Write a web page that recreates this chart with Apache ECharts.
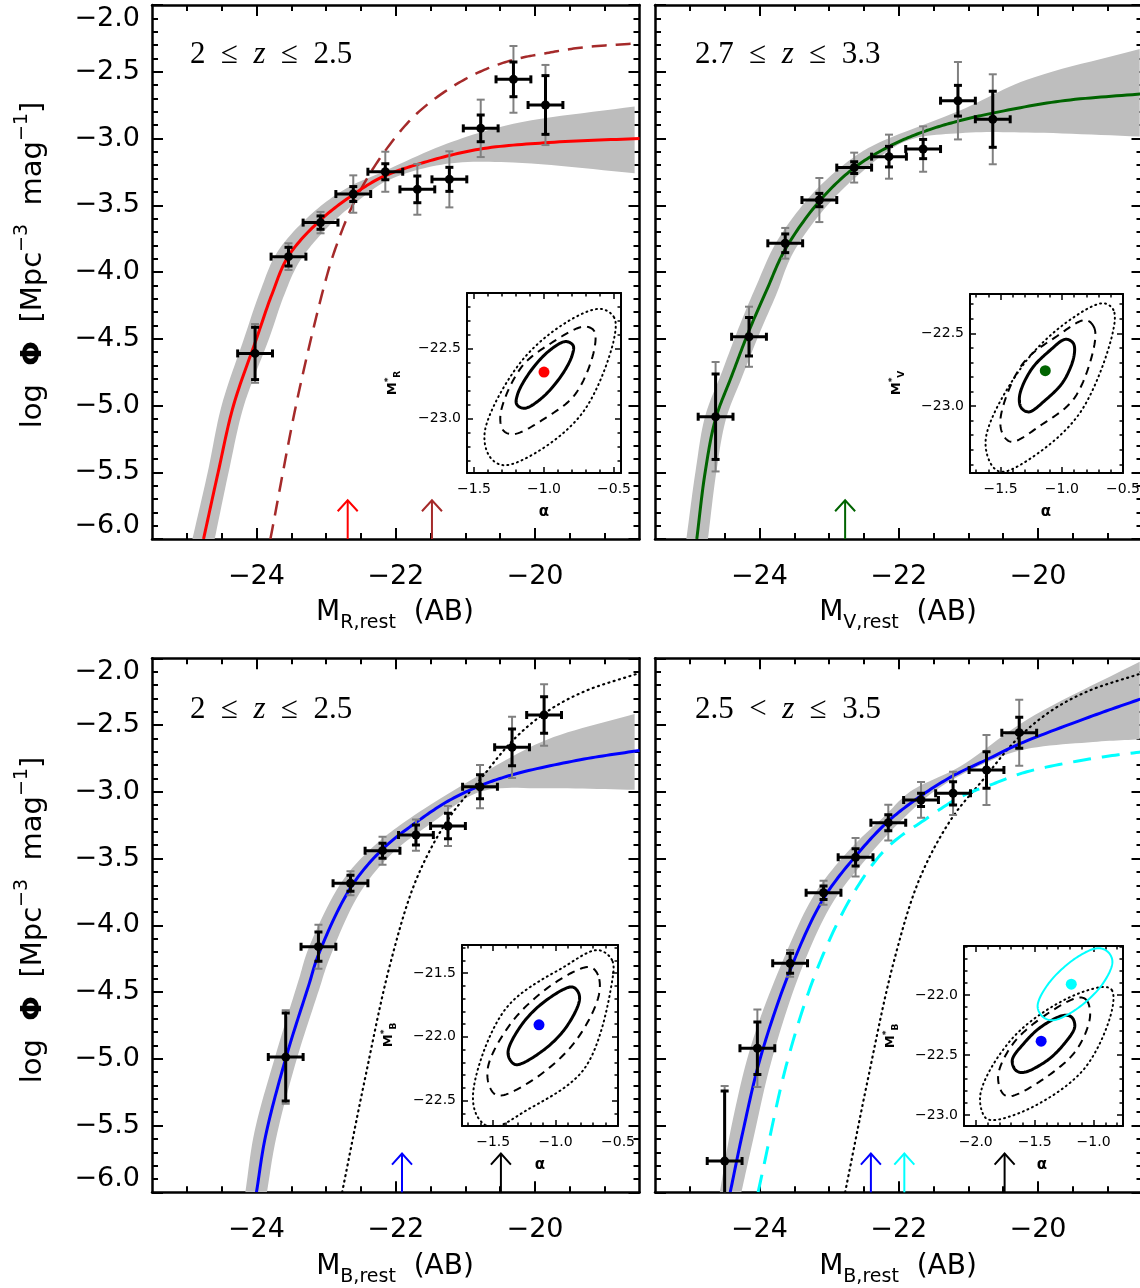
<!DOCTYPE html>
<html>
<head>
<meta charset="utf-8">
<title>Luminosity functions</title>
<script src="https://cdn.jsdelivr.net/npm/echarts@6.0.0/dist/echarts.min.js"></script>
<style>
  html, body { margin: 0; padding: 0; background: #fff; }
  #chart { width: 1140px; height: 1288px; }
</style>
</head>
<body>
<div id="chart"></div>
<script>
// ---- data ----
// half width of the magnitude bins
const binHalf = 0.25;

// top left: M_R, 2 <= z <= 2.5
const rMag = [-24.02, -23.54, -23.08, -22.61, -22.15, -21.69, -21.23, -20.78, -20.31, -19.85];
const rPhi = [-4.61, -3.885, -3.63, -3.416, -3.249, -3.381, -3.306, -2.924, -2.557, -2.749];
const rErr = [0.196, 0.07, 0.05, 0.056, 0.06, 0.10, 0.09, 0.10, 0.13, 0.22];
const rErrTot = [0.22, 0.10, 0.08, 0.14, 0.15, 0.19, 0.21, 0.215, 0.25, 0.30];
const rFit = [[-24.76, -6.0], [-24.55, -5.5], [-24.33, -5.0], [-24.0, -4.5], [-23.78, -4.17], [-23.54, -3.88],
  [-23.08, -3.61], [-22.61, -3.42], [-22.2, -3.29], [-21.6, -3.18], [-20.8, -3.08], [-19.8, -3.03], [-18.5, -3.0]];
const rLocal = [[-23.8, -6.0], [-23.4, -4.92], [-23.0, -4.05], [-22.85, -3.8], [-22.6, -3.48], [-22.23, -3.15],
  [-21.75, -2.84], [-21.27, -2.64], [-20.79, -2.5], [-20.31, -2.41], [-19.83, -2.36], [-19.35, -2.32], [-18.5, -2.285]];
const rBandHi = [[-24.92, -6.0], [-24.7, -5.5], [-24.5, -5.0], [-24.18, -4.5], [-23.95, -4.15], [-23.7, -3.85],
  [-23.2, -3.56], [-22.7, -3.37], [-22.23, -3.26], [-21.27, -3.04], [-20.31, -2.89], [-18.57, -2.76]];
const rBandLo = [[-24.6, -6.0], [-24.4, -5.5], [-24.18, -5.0], [-23.82, -4.5], [-23.6, -4.17], [-23.38, -3.92],
  [-22.95, -3.65], [-22.5, -3.45], [-22.1, -3.31], [-21.27, -3.19], [-20.31, -3.18], [-18.57, -3.26]];
const rArrows = [-22.69, -21.48];
const rArrowColors = ['#ff0000', '#a52a2a'];

// top right: M_V, 2.7 <= z <= 3.3
const vMag = [-24.63, -24.15, -23.63, -23.14, -22.64, -22.14, -21.65, -21.15, -20.65];
const vPhi = [-5.084, -4.485, -3.785, -3.461, -3.218, -3.136, -3.079, -2.717, -2.856];
const vErr = [0.32, 0.144, 0.07, 0.05, 0.044, 0.077, 0.072, 0.115, 0.21];
const vErrTot = [0.41, 0.225, 0.115, 0.165, 0.112, 0.165, 0.17, 0.29, 0.337];
const vFit = [[-24.9, -6.0], [-24.78, -5.5], [-24.63, -5.1], [-24.4, -4.78], [-24.15, -4.44], [-23.9, -4.14],
  [-23.63, -3.83], [-23.14, -3.47], [-22.64, -3.22], [-22.14, -3.06], [-21.65, -2.95], [-21.15, -2.87],
  [-20.65, -2.81], [-19.68, -2.72], [-18.5, -2.665]];
const vBandHi = [[-25.05, -6.0], [-24.92, -5.5], [-24.78, -5.08], [-24.54, -4.75], [-24.3, -4.42], [-24.06, -4.12],
  [-23.75, -3.77], [-23.25, -3.42], [-22.75, -3.18], [-22.36, -3.05], [-21.12, -2.79], [-20.16, -2.56], [-18.54, -2.33]];
const vBandLo = [[-24.74, -6.0], [-24.62, -5.5], [-24.48, -5.1], [-24.26, -4.8], [-24.0, -4.46], [-23.76, -4.17],
  [-23.52, -3.86], [-23.04, -3.51], [-22.55, -3.26], [-21.9, -3.02], [-21.12, -2.96], [-20.16, -2.955], [-18.54, -2.985]];
const vArrows = [-22.77];
const vArrowColors = ['#006400'];

// bottom left: M_B, 2 <= z <= 2.5
const b1Mag = [-23.58, -23.11, -22.65, -22.19, -21.71, -21.25, -20.79, -20.33, -19.87];
const b1Phi = [-4.987, -4.16, -3.685, -3.441, -3.324, -3.256, -2.962, -2.667, -2.425];
const b1Err = [0.33, 0.11, 0.06, 0.056, 0.075, 0.095, 0.09, 0.137, 0.137];
const b1ErrTot = [0.35, 0.165, 0.09, 0.105, 0.117, 0.15, 0.162, 0.23, 0.23];
const b1Fit = [[-24.0, -6.0], [-23.87, -5.58], [-23.57, -4.98], [-23.25, -4.45], [-23.11, -4.22], [-22.65, -3.72],
  [-22.19, -3.43], [-21.71, -3.23], [-21.25, -3.07], [-20.79, -2.955], [-20.31, -2.87], [-19.35, -2.76], [-18.5, -2.69]];
const b1BandHi = [[-24.16, -6.0], [-24.03, -5.55], [-23.73, -4.98], [-23.4, -4.42], [-23.25, -4.17], [-22.77, -3.67],
  [-22.3, -3.4], [-21.8, -3.2], [-20.79, -2.873], [-19.83, -2.61], [-18.57, -2.417]];
const b1BandLo = [[-23.85, -6.0], [-23.72, -5.6], [-23.42, -5.0], [-23.1, -4.48], [-22.96, -4.26], [-22.52, -3.76],
  [-22.05, -3.46], [-21.5, -3.24], [-20.79, -3.0], [-19.83, -2.974], [-18.57, -2.985]];
const b1Arrows = [-21.91, -20.49];
const b1ArrowColors = ['#0000ff', '#000000'];

// bottom right: M_B, 2.5 < z <= 3.5
const b2Mag = [-24.50, -24.03, -23.56, -23.08, -22.62, -22.15, -21.68, -21.22, -20.74, -20.27];
const b2Phi = [-5.766, -4.921, -4.285, -3.756, -3.491, -3.231, -3.061, -3.011, -2.837, -2.557];
const b2Err = [0.524, 0.196, 0.075, 0.05, 0.065, 0.06, 0.05, 0.087, 0.137, 0.116];
const b2ErrTot = [0.562, 0.29, 0.10, 0.09, 0.144, 0.134, 0.134, 0.162, 0.262, 0.247];
const b2Fit = [[-24.42, -6.0], [-24.24, -5.55], [-23.98, -4.98], [-23.54, -4.31], [-23.08, -3.8], [-22.6, -3.47],
  [-22.15, -3.22], [-21.68, -3.03], [-21.22, -2.88], [-20.74, -2.76], [-20.26, -2.64], [-19.21, -2.43], [-18.5, -2.30]];
const b2Alt = [[-24.02, -6.0], [-23.59, -5.0], [-23.15, -4.3], [-22.65, -3.76], [-22.17, -3.42], [-21.6, -3.2],
  [-21.12, -3.04], [-20.64, -2.94], [-20.16, -2.85], [-19.21, -2.75], [-18.5, -2.70]];
const b2BandHi = [[-24.57, -6.0], [-24.4, -5.5], [-24.12, -4.9], [-23.66, -4.26], [-23.2, -3.76], [-22.7, -3.43],
  [-22.2, -3.18], [-21.84, -3.0], [-21.12, -2.81], [-20.16, -2.46], [-18.54, -2.025]];
const b2BandLo = [[-24.26, -6.0], [-24.08, -5.58], [-23.84, -5.04], [-23.42, -4.36], [-22.96, -3.84], [-22.48, -3.51],
  [-22.05, -3.26], [-21.5, -3.0], [-20.9, -2.82], [-20.26, -2.69], [-19.21, -2.627], [-18.54, -2.607]];
const b2Arrows = [-22.40, -21.92, -20.48];
const b2ArrowColors = ['#0000ff', '#00ffff', '#000000'];

// reference LF drawn dotted in both B panels
const bRef = [[-22.77, -6.0], [-22.45, -5.17], [-22.08, -4.29], [-21.7, -3.65], [-21.24, -3.2], [-20.79, -2.91],
  [-20.31, -2.61], [-19.83, -2.40], [-19.3, -2.25], [-18.5, -2.11]];
const arrowBase = -6.0;
const arrowTip = -5.71;

// insets: alpha vs M*, 1/2/3 sigma contours (points going round each contour)
const rDot = [-1.0, -22.667];
const rEll1 = [[-0.792, -22.476], [-0.847, -22.448], [-0.97, -22.52], [-1.11, -22.68], [-1.19, -22.83],
  [-1.195, -22.898], [-1.14, -22.926], [-1.017, -22.854], [-0.877, -22.694], [-0.8, -22.55]];
const rEll2 = [[-0.644, -22.369], [-0.716, -22.341], [-0.95, -22.46], [-1.16, -22.63], [-1.31, -22.965],
  [-1.291, -23.084], [-1.219, -23.112], [-0.985, -22.993], [-0.775, -22.823], [-0.64, -22.5]];
const rEll3 = [[-0.5, -22.274], [-0.596, -22.214], [-0.84, -22.31], [-1.17, -22.6], [-1.423, -23.095],
  [-1.387, -23.274], [-1.291, -23.334], [-1.047, -23.238], [-0.717, -22.948], [-0.5, -22.43]];

const vDot = [-1.135, -22.757];
const vEll1 = [[-0.906, -22.569], [-0.968, -22.541], [-1.10, -22.62], [-1.25, -22.75], [-1.345, -22.93],
  [-1.331, -23.012], [-1.269, -23.04], [-1.137, -22.961], [-0.987, -22.831], [-0.9, -22.655]];
const vEll2 = [[-0.739, -22.455], [-0.806, -22.409], [-1.04, -22.52], [-1.32, -22.71], [-1.50, -23.08],
  [-1.478, -23.2], [-1.411, -23.246], [-1.177, -23.135], [-0.897, -22.945], [-0.73, -22.56]];
const vEll3 = [[-0.578, -22.34], [-0.659, -22.294], [-0.92, -22.40], [-1.30, -22.70], [-1.62, -23.217],
  [-1.573, -23.406], [-1.492, -23.452], [-1.231, -23.346], [-0.851, -23.046], [-0.585, -22.5]];

const b1Dot = [-1.133, -21.906];
const b1Ell1 = [[-0.82, -21.648], [-0.869, -21.609], [-1.07, -21.71], [-1.26, -21.89], [-1.38, -22.11],
  [-1.365, -22.18], [-1.316, -22.219], [-1.115, -22.118], [-0.925, -21.938], [-0.81, -21.72]];
const b1Ell2 = [[-0.66, -21.516], [-0.724, -21.453], [-0.98, -21.56], [-1.33, -21.86], [-1.54, -22.23],
  [-1.526, -22.398], [-1.462, -22.461], [-1.206, -22.354], [-0.856, -22.054], [-0.655, -21.68]];
const b1Ell3 = [[-0.548, -21.398], [-0.66, -21.32], [-0.93, -21.45], [-1.40, -21.78], [-1.66, -22.43],
  [-1.622, -22.633], [-1.51, -22.711], [-1.24, -22.581], [-0.77, -22.251], [-0.55, -21.58]];

const b2Dot = [-1.445, -22.383];
const b2DotAlt = [-1.189, -21.908];
const b2Ell1 = [[-1.183, -22.186], [-1.245, -22.167], [-1.44, -22.26], [-1.59, -22.40], [-1.69, -22.54],
  [-1.661, -22.625], [-1.599, -22.644], [-1.404, -22.551], [-1.254, -22.411], [-1.16, -22.265]];
const b2Ell2 = [[-1.059, -22.042], [-1.121, -22.019], [-1.40, -22.16], [-1.68, -22.40], [-1.81, -22.67],
  [-1.77, -22.819], [-1.708, -22.842], [-1.429, -22.701], [-1.149, -22.461], [-1.03, -22.18]];
const b2Ell3 = [[-0.844, -21.958], [-0.906, -21.931], [-1.25, -22.04], [-1.69, -22.36], [-1.96, -22.82],
  [-1.924, -23.014], [-1.862, -23.041], [-1.518, -22.932], [-1.078, -22.612], [-0.845, -22.13]];
const b2EllAlt = [[-0.875, -21.642], [-0.961, -21.608], [-1.15, -21.69], [-1.38, -21.90], [-1.475, -22.09],
  [-1.436, -22.175], [-1.35, -22.209], [-1.161, -22.127], [-0.931, -21.917], [-0.84, -21.725]];

// axes: ranges and ticks
const magRange = [-25.5, -18.5];
const phiRange = [-6.0, -2.0];
const magMajor = [-24, -22, -20];
const magMinor = [-25, -24.5, -23.5, -23, -22.5, -21.5, -21, -20.5, -19.5, -19];
const phiMajor = [-6.0, -5.5, -5.0, -4.5, -4.0, -3.5, -3.0, -2.5, -2.0];

const FONT = 'DejaVu Sans';
const SERIF = 'Liberation Serif';

function steps(a, b, d) {
  const out = [];
  const n = Math.round((b - a) / d);
  for (let i = 0; i <= n; i++) out.push(+(a + i * d).toFixed(3));
  return out;
}
const phiMinor = steps(-6.0, -2.0, 0.1);

const minusInt = v => (v < 0 ? '\u2212' : '') + Math.abs(v);
const minus1 = v => (v < 0 ? '\u2212' : '') + Math.abs(v).toFixed(1);

const mainStyle = { line: 2.5, tick: 2, major: 11, minor: 6, font: 27, xMargin: 24, yMargin: 12, fmtX: minusInt, fmtY: minus1, edge: true, yLabel: true };
const sideStyle = Object.assign({}, mainStyle, { yLabel: false });
const insetStyle = { line: 2, tick: 1.5, major: 6, minor: 3.5, font: 14, xMargin: 9, yMargin: 6, fmtX: minus1, fmtY: minus1, edge: false, yLabel: true };

const grids = [], xAxes = [], yAxes = [], series = [], graphics = [];

function makeFrame(box, xr, yr, xt, yt, st) {
  const gi = grids.length;
  grids.push({
    left: box.left, top: box.top, width: box.width, height: box.height,
    containLabel: false, outerBoundsMode: 'none', show: false
  });
  const xi = xAxes.length, yi = yAxes.length;
  ['bottom', 'top'].forEach(pos => ['major', 'minor'].forEach(lvl => {
    const lab = pos === 'bottom' && lvl === 'major';
    xAxes.push({
      type: 'value', gridIndex: gi, position: pos, min: xr[0], max: xr[1],
      axisLine: { show: lvl === 'major', onZero: false, lineStyle: { color: '#000', width: st.line } },
      axisTick: { show: true, inside: true, customValues: xt[lvl], length: st[lvl], lineStyle: { color: '#000', width: st.tick } },
      axisLabel: lab ? {
        show: true, customValues: xt.major, formatter: st.fmtX, margin: st.xMargin,
        color: '#000', fontFamily: FONT, fontSize: st.font
      } : { show: false },
      splitLine: { show: false }
    });
  }));
  ['left', 'right'].forEach(pos => ['major', 'minor'].forEach(lvl => {
    const lab = st.yLabel && pos === 'left' && lvl === 'major';
    const label = lab ? {
      show: true, customValues: yt.major, formatter: st.fmtY, margin: st.yMargin,
      color: '#000', fontFamily: FONT, fontSize: st.font
    } : { show: false };
    if (lab && st.edge) {
      label.verticalAlignMinLabel = 'bottom';
      label.verticalAlignMaxLabel = 'top';
    }
    yAxes.push({
      type: 'value', gridIndex: gi, position: pos, min: yr[0], max: yr[1],
      axisLine: { show: lvl === 'major', onZero: false, lineStyle: { color: '#000', width: st.line } },
      axisTick: { show: true, inside: true, customValues: yt[lvl], length: st[lvl], lineStyle: { color: '#000', width: st.tick } },
      axisLabel: label,
      splitLine: { show: false }
    });
  }));
  return { xi, yi };
}

// centripetal catmull-rom through pixel points, used only for drawing
function spline(pts, closed, n) {
  const m = pts.length;
  let P;
  if (closed) {
    P = [pts[m - 1]].concat(pts, [pts[0], pts[1]]);
  } else {
    const a = [2 * pts[0][0] - pts[1][0], 2 * pts[0][1] - pts[1][1]];
    const b = [2 * pts[m - 1][0] - pts[m - 2][0], 2 * pts[m - 1][1] - pts[m - 2][1]];
    P = [a].concat(pts, [b]);
  }
  const knot = (p, q) => Math.max(1e-6, Math.sqrt(Math.hypot(q[0] - p[0], q[1] - p[1])));
  const out = [];
  for (let i = 0; i + 3 < P.length; i++) {
    const p0 = P[i], p1 = P[i + 1], p2 = P[i + 2], p3 = P[i + 3];
    const t0 = 0, t1 = knot(p0, p1), t2 = t1 + knot(p1, p2), t3 = t2 + knot(p2, p3);
    for (let s = 0; s < n; s++) {
      const t = t1 + (t2 - t1) * s / n;
      const lerp = (a, b, ta, tb) => [0, 1].map(k => ((tb - t) * a[k] + (t - ta) * b[k]) / (tb - ta));
      const A1 = lerp(p0, p1, t0, t1), A2 = lerp(p1, p2, t1, t2), A3 = lerp(p2, p3, t2, t3);
      const B1 = lerp(A1, A2, t0, t2), B2 = lerp(A2, A3, t1, t3);
      out.push(lerp(B1, B2, t1, t2));
    }
  }
  out.push(P[P.length - 2]);
  return out;
}

function addBand(ax, hi, lo) {
  series.push({
    type: 'custom', xAxisIndex: ax.xi, yAxisIndex: ax.yi, z: 1, clip: true, silent: true,
    data: hi,
    renderItem: (params, api) => {
      if (params.dataIndex !== 0) return null;
      const top = spline(hi.map(p => api.coord(p)), false, 12);
      const bot = spline(lo.map(p => api.coord(p)), false, 12).reverse();
      return { type: 'polygon', shape: { points: top.concat(bot) }, style: { fill: '#bebebe' } };
    }
  });
}

function addCurve(ax, pts, color, dash, width) {
  series.push({
    type: 'custom', xAxisIndex: ax.xi, yAxisIndex: ax.yi, z: 3, clip: true, silent: true,
    data: pts,
    renderItem: (params, api) => {
      if (params.dataIndex !== 0) return null;
      return {
        type: 'polyline', shape: { points: spline(pts.map(p => api.coord(p)), false, 16) },
        style: { stroke: color, lineWidth: width, lineDash: dash, lineCap: dash && dash[0] < 3 ? 'round' : 'butt', fill: 'none' }
      };
    }
  });
}

function addPoints(ax, mag, phi, err, errTot) {
  series.push({
    type: 'custom', xAxisIndex: ax.xi, yAxisIndex: ax.yi, z: 5, clip: true, silent: true,
    data: mag.map((m, i) => [m, phi[i], err[i], errTot[i], binHalf]),
    renderItem: (params, api) => {
      const x = api.value(0), y = api.value(1), e = api.value(2), et = api.value(3), xe = api.value(4);
      const c = api.coord([x, y]);
      const gt = api.coord([x, y + et]), gb = api.coord([x, y - et]);
      const bt = api.coord([x, y + e]), bb = api.coord([x, y - e]);
      const xl = api.coord([x - xe, y]), xr = api.coord([x + xe, y]);
      const cap = 4;
      const gray = { stroke: '#808080', lineWidth: 2 };
      const blk = { stroke: '#000', lineWidth: 3 };
      const seg = (x1, y1, x2, y2, s) => ({ type: 'line', shape: { x1, y1, x2, y2 }, style: s });
      return {
        type: 'group', children: [
          seg(gt[0], gt[1], gb[0], gb[1], gray),
          seg(gt[0] - cap, gt[1], gt[0] + cap, gt[1], gray),
          seg(gb[0] - cap, gb[1], gb[0] + cap, gb[1], gray),
          seg(bt[0], bt[1], bb[0], bb[1], blk),
          seg(bt[0] - cap, bt[1], bt[0] + cap, bt[1], blk),
          seg(bb[0] - cap, bb[1], bb[0] + cap, bb[1], blk),
          seg(xl[0], xl[1], xr[0], xr[1], blk),
          seg(xl[0], xl[1] - cap, xl[0], xl[1] + cap, blk),
          seg(xr[0], xr[1] - cap, xr[0], xr[1] + cap, blk),
          { type: 'circle', shape: { cx: c[0], cy: c[1], r: 4.5 }, style: { fill: '#000' } }
        ]
      };
    }
  });
}

function addArrows(ax, mags, colors) {
  series.push({
    type: 'custom', xAxisIndex: ax.xi, yAxisIndex: ax.yi, z: 3, clip: false, silent: true,
    data: mags.map(m => [m, arrowBase, arrowTip]),
    renderItem: (params, api) => {
      const b = api.coord([api.value(0), api.value(1)]);
      const t = api.coord([api.value(0), api.value(2)]);
      const col = colors[params.dataIndex];
      return {
        type: 'group', children: [
          { type: 'line', shape: { x1: b[0], y1: b[1], x2: t[0], y2: t[1] }, style: { stroke: col, lineWidth: 2 } },
          { type: 'polyline', shape: { points: [[t[0] - 10, t[1] + 11], [t[0], t[1]], [t[0] + 10, t[1] + 11]] },
            style: { stroke: col, lineWidth: 2, fill: 'none' } }
        ]
      };
    }
  });
}

function addEllipse(ax, pts, color, dash, width) {
  series.push({
    type: 'custom', xAxisIndex: ax.xi, yAxisIndex: ax.yi, z: 5, clip: true, silent: true,
    data: pts,
    renderItem: (params, api) => {
      if (params.dataIndex !== 0) return null;
      return {
        type: 'polyline', shape: { points: spline(pts.map(p => api.coord(p)), true, 16) },
        style: { stroke: color, lineWidth: width, lineDash: dash, lineCap: dash && dash[0] < 3 ? 'round' : 'butt', fill: 'none' }
      };
    }
  });
}

function addDot(ax, p, color) {
  series.push({
    type: 'scatter', xAxisIndex: ax.xi, yAxisIndex: ax.yi, z: 6, silent: true,
    data: [p], symbol: 'circle', symbolSize: 11, itemStyle: { color: color, opacity: 1 }
  });
}

function addText(x, y, text, rich, rot, align) {
  graphics.push({
    type: 'text', x: x, y: y, rotation: rot || 0, z: 100, silent: true,
    style: { text: text, rich: rich, align: align || 'center', verticalAlign: 'middle', fill: '#000' }
  });
}

// ---- panels ----
const mainW = 487.5, mainH = 534;
const mainTicksX = { major: magMajor, minor: magMinor };
const mainTicksY = { major: phiMajor, minor: phiMinor };

const pTL = makeFrame({ left: 152, top: 5, width: mainW, height: mainH }, magRange, phiRange, mainTicksX, mainTicksY, mainStyle);
const pTR = makeFrame({ left: 655, top: 5, width: mainW, height: mainH }, magRange, phiRange, mainTicksX, mainTicksY, sideStyle);
const pBL = makeFrame({ left: 152, top: 658.3, width: mainW, height: mainH }, magRange, phiRange, mainTicksX, mainTicksY, mainStyle);
const pBR = makeFrame({ left: 655, top: 658.3, width: mainW, height: mainH }, magRange, phiRange, mainTicksX, mainTicksY, sideStyle);

const iTL = makeFrame({ left: 467, top: 293, width: 154, height: 180 }, [-1.55, -0.45], [-23.39, -22.1],
  { major: [-1.5, -1.0, -0.5], minor: steps(-1.5, -0.5, 0.1) }, { major: [-23.0, -22.5], minor: steps(-23.3, -22.2, 0.1) }, insetStyle);
const iTR = makeFrame({ left: 970, top: 294, width: 153, height: 179 }, [-1.75, -0.5], [-23.46, -22.23],
  { major: [-1.5, -1.0, -0.5], minor: steps(-1.7, -0.5, 0.1) }, { major: [-23.0, -22.5], minor: steps(-23.4, -22.3, 0.1) }, insetStyle);
const iBL = makeFrame({ left: 462, top: 945, width: 156, height: 181 }, [-1.75, -0.5], [-22.7, -21.28],
  { major: [-1.5, -1.0, -0.5], minor: steps(-1.7, -0.5, 0.1) }, { major: [-22.5, -22.0, -21.5], minor: steps(-22.6, -21.3, 0.1) }, insetStyle);
const iBR = makeFrame({ left: 964, top: 946, width: 159, height: 180 }, [-2.1, -0.75], [-23.09, -21.59],
  { major: [-2.0, -1.5, -1.0], minor: steps(-2.0, -0.8, 0.1) }, { major: [-23.0, -22.5, -22.0], minor: steps(-23.0, -21.6, 0.1) }, insetStyle);

const dashed = [15, 9];
const dotted = [1, 4.5];
const ellDash = [8, 6];
const ellDot = [1, 4];

// top left
addBand(pTL, rBandHi, rBandLo);
addCurve(pTL, rLocal, '#a52a2a', dashed, 2.5);
addCurve(pTL, rFit, '#ff0000', null, 3);
addArrows(pTL, rArrows, rArrowColors);
addPoints(pTL, rMag, rPhi, rErr, rErrTot);
addEllipse(iTL, rEll3, '#000', ellDot, 2);
addEllipse(iTL, rEll2, '#000', ellDash, 2);
addEllipse(iTL, rEll1, '#000', null, 3);
addDot(iTL, rDot, '#ff0000');

// top right
addBand(pTR, vBandHi, vBandLo);
addCurve(pTR, vFit, '#006400', null, 3);
addArrows(pTR, vArrows, vArrowColors);
addPoints(pTR, vMag, vPhi, vErr, vErrTot);
addEllipse(iTR, vEll3, '#000', ellDot, 2);
addEllipse(iTR, vEll2, '#000', ellDash, 2);
addEllipse(iTR, vEll1, '#000', null, 3);
addDot(iTR, vDot, '#006400');

// bottom left
addBand(pBL, b1BandHi, b1BandLo);
addCurve(pBL, bRef, '#000', dotted, 2.2);
addCurve(pBL, b1Fit, '#0000ff', null, 3);
addArrows(pBL, b1Arrows, b1ArrowColors);
addPoints(pBL, b1Mag, b1Phi, b1Err, b1ErrTot);
addEllipse(iBL, b1Ell3, '#000', ellDot, 2);
addEllipse(iBL, b1Ell2, '#000', ellDash, 2);
addEllipse(iBL, b1Ell1, '#000', null, 3);
addDot(iBL, b1Dot, '#0000ff');

// bottom right
addBand(pBR, b2BandHi, b2BandLo);
addCurve(pBR, bRef, '#000', dotted, 2.2);
addCurve(pBR, b2Alt, '#00ffff', [18, 11], 3);
addCurve(pBR, b2Fit, '#0000ff', null, 3);
addArrows(pBR, b2Arrows, b2ArrowColors);
addPoints(pBR, b2Mag, b2Phi, b2Err, b2ErrTot);
addEllipse(iBR, b2Ell3, '#000', ellDot, 2);
addEllipse(iBR, b2Ell2, '#000', ellDash, 2);
addEllipse(iBR, b2Ell1, '#000', null, 3);
addEllipse(iBR, b2EllAlt, '#00ffff', null, 2);
addDot(iBR, b2Dot, '#0000ff');
addDot(iBR, b2DotAlt, '#00ffff');

// ---- text ----
const yTitleRich = {
  a: { fontFamily: FONT, fontSize: 29, lineHeight: 40, fill: '#000' },
  b: { fontFamily: FONT, fontSize: 29, lineHeight: 40, fontWeight: 'bold', fill: '#000' },
  s: { fontFamily: FONT, fontSize: 19, lineHeight: 40, verticalAlign: 'top', fill: '#000' }
};
const yTitle = '{a|log  }{b|\u03a6}{a|  [Mpc}{s|\u22123}{a|  mag}{s|\u22121}{a|]}';
addText(33, 265, yTitle, yTitleRich, Math.PI / 2);
addText(33, 920, yTitle, yTitleRich, Math.PI / 2);

const xTitleRich = {
  m: { fontFamily: FONT, fontSize: 28, lineHeight: 40, fill: '#000' },
  s: { fontFamily: FONT, fontSize: 19, lineHeight: 40, verticalAlign: 'bottom', fill: '#000' }
};
addText(395, 613, '{m|M}{s|R,rest}{m|  (AB)}', xTitleRich);
addText(898, 613, '{m|M}{s|V,rest}{m|  (AB)}', xTitleRich);
addText(395, 1267, '{m|M}{s|B,rest}{m|  (AB)}', xTitleRich);
addText(898, 1267, '{m|M}{s|B,rest}{m|  (AB)}', xTitleRich);

const zRich = {
  n: { fontFamily: SERIF, fontSize: 31, fill: '#000' },
  i: { fontFamily: SERIF, fontSize: 31, fontStyle: 'italic', fill: '#000' }
};
const sp = '\u2002';
addText(190, 55, '{n|2' + sp + '\u2264' + sp + '}{i|z}{n|' + sp + '\u2264' + sp + '2.5}', zRich, 0, 'left');
addText(695, 55, '{n|2.7' + sp + '\u2264' + sp + '}{i|z}{n|' + sp + '\u2264' + sp + '3.3}', zRich, 0, 'left');
addText(190, 710, '{n|2' + sp + '\u2264' + sp + '}{i|z}{n|' + sp + '\u2264' + sp + '2.5}', zRich, 0, 'left');
addText(695, 710, '{n|2.5' + sp + '<' + sp + '}{i|z}{n|' + sp + '\u2264' + sp + '3.5}', zRich, 0, 'left');

const insetRich = {
  m: { fontFamily: FONT, fontSize: 13, fontWeight: 'bold', lineHeight: 18, fill: '#000' },
  s: { fontFamily: FONT, fontSize: 9, fontWeight: 'bold', lineHeight: 18, verticalAlign: 'bottom', fill: '#000' },
  t: { fontFamily: FONT, fontSize: 9, fontWeight: 'bold', lineHeight: 18, verticalAlign: 'top', fill: '#000' }
};
const alphaRich = { a: { fontFamily: FONT, fontSize: 15, fontWeight: 'bold', fill: '#000' } };
addText(393, 383, '{m|M}{t|*}{s|R}', insetRich, Math.PI / 2);
addText(897, 383, '{m|M}{t|*}{s|V}', insetRich, Math.PI / 2);
addText(389, 1035, '{m|M}{t|*}{s|B}', insetRich, Math.PI / 2);
addText(891, 1036, '{m|M}{t|*}{s|B}', insetRich, Math.PI / 2);
addText(544, 512, '{a|\u03b1}', alphaRich);
addText(1046, 512, '{a|\u03b1}', alphaRich);
addText(540, 1165, '{a|\u03b1}', alphaRich);
addText(1042, 1165, '{a|\u03b1}', alphaRich);

const chart = echarts.init(document.getElementById('chart'), null, { renderer: 'canvas' });
chart.setOption({
  animation: false,
  backgroundColor: '#fff',
  grid: grids,
  xAxis: xAxes,
  yAxis: yAxes,
  series: series,
  graphic: { elements: graphics }
});
</script>
</body>
</html>
